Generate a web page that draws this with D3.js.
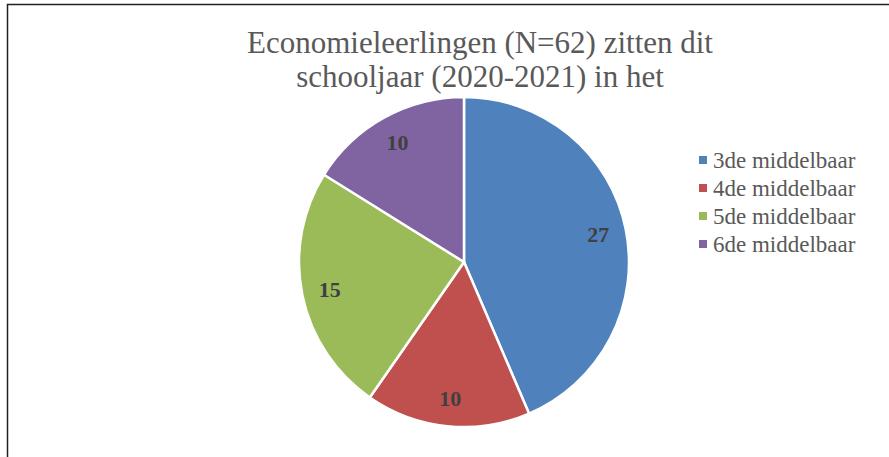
<!DOCTYPE html>
<html>
<head>
<meta charset="utf-8">
<script src="https://d3js.org/d3.v7.min.js"></script>
<style>
  body { margin: 0; background: #fff; }
</style>
</head>
<body>
<svg id="chart" width="889" height="457" font-family="'Liberation Serif', 'Times New Roman', Times, serif"></svg>
<script>
var categories = ['3de middelbaar', '4de middelbaar', '5de middelbaar', '6de middelbaar'];
var counts = [27, 10, 15, 10];
var colors = ['#4f81bd', '#c0504d', '#9bbb59', '#8064a2'];
var titleLines = ['Economieleerlingen (N=62) zitten dit', 'schooljaar (2020-2021) in het'];

var svg = d3.select('#chart');

// chart frame
svg.append('rect')
  .attr('x', 7.5).attr('y', 4.5)
  .attr('width', 900).attr('height', 480)
  .attr('fill', '#fff')
  .attr('stroke', '#222')
  .attr('stroke-width', 1.5);

svg.selectAll('.title').data(titleLines).enter()
  .append('text')
  .attr('class', 'title')
  .attr('x', 480)
  .attr('y', function(d, i) { return 53 + i * 34; })
  .attr('text-anchor', 'middle')
  .attr('font-size', 31)
  .attr('fill', '#595959')
  .text(function(d) { return d; });

var radius = 165;
var pie = d3.pie().sort(null).value(function(d) { return d; });
var arc = d3.arc().innerRadius(0).outerRadius(radius);
var labelArc = d3.arc().innerRadius(radius * 0.83).outerRadius(radius * 0.83);

var g = svg.append('g').attr('transform', 'translate(464,262)');
var slices = pie(counts);

g.selectAll('path').data(slices).enter()
  .append('path')
  .attr('d', arc)
  .attr('fill', function(d, i) { return colors[i]; })
  .attr('stroke', '#fff')
  .attr('stroke-width', 2.5);

g.selectAll('.lbl').data(slices).enter()
  .append('text')
  .attr('class', 'lbl')
  .attr('transform', function(d) { return 'translate(' + labelArc.centroid(d) + ')'; })
  .attr('text-anchor', 'middle')
  .attr('dy', '0.35em')
  .attr('font-size', 22)
  .attr('font-weight', 'bold')
  .attr('fill', '#404040')
  .text(function(d) { return d.data; });

var legend = svg.append('g').attr('transform', 'translate(699,160)');
var items = legend.selectAll('g').data(categories).enter()
  .append('g')
  .attr('transform', function(d, i) { return 'translate(0,' + i * 28 + ')'; });
items.append('rect')
  .attr('x', 0).attr('y', -4)
  .attr('width', 8).attr('height', 8)
  .attr('fill', function(d, i) { return colors[i]; });
items.append('text')
  .attr('x', 14)
  .attr('dy', '0.35em')
  .attr('font-size', 23)
  .attr('fill', '#595959')
  .text(function(d) { return d; });
</script>
</body>
</html>
